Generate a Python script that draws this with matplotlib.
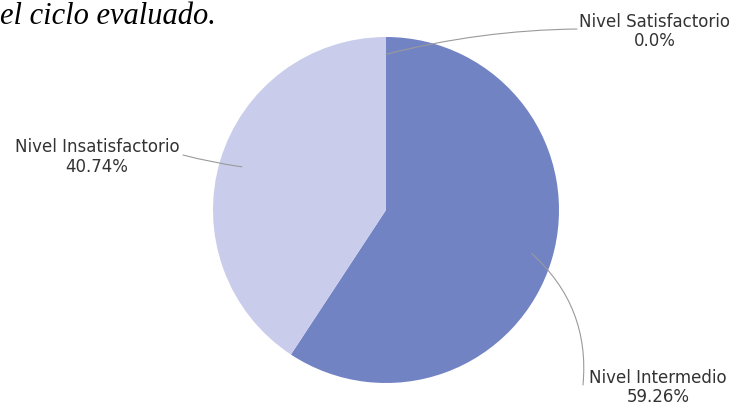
import numpy as np
import matplotlib
matplotlib.use('Agg')
from matplotlib import pyplot as plt

labels = ['Nivel Intermedio', 'Nivel Insatisfactorio', 'Nivel Satisfactorio']
values = [59.26, 40.74, 0.0]
pct_text = ['59.26%', '40.74%', '0.0%']
colors = ['#7283c4', '#c9cdeb', '#5a6bb5']

W, H = 735, 407
fig = plt.figure(figsize=(W / 100, H / 100), dpi=100)
ax = fig.add_axes([0, 0, 1, 1])

cx, cy, r = 386, H - 210, 173
wedges, _ = ax.pie(values, colors=colors, startangle=90, counterclock=False,
                   radius=r, center=(cx, cy), frame=True,
                   wedgeprops=dict(linewidth=0))
ax.set_xlim(0, W)
ax.set_ylim(0, H)
ax.set_aspect('auto')
ax.axis('off')

# label placement (pixels from top-left) and leader line settings
label_pos = [(658, 378), (97, 147), (655, 22)]
line_end = [(583, 385), (183, 155), (577, 29)]
anchor_r = [0.88, 0.87, 0.9]
rads = [-0.25, -0.03, -0.06]

for i, w in enumerate(wedges):
    mid = np.deg2rad((w.theta1 + w.theta2) / 2)
    ax_x = cx + anchor_r[i] * r * np.cos(mid)
    ax_y = cy + anchor_r[i] * r * np.sin(mid)
    ex, ey = line_end[i]
    ax.annotate('', xy=(ex, H - ey), xytext=(ax_x, ax_y),
                arrowprops=dict(arrowstyle='-', color='#9a9a9a', lw=0.8,
                                shrinkA=0, shrinkB=0,
                                connectionstyle='arc3,rad=%s' % rads[i]))
    lx, ly = label_pos[i]
    ax.text(lx, H - ly, labels[i], ha='center', va='center',
            fontsize=12, color='#333333', family='DejaVu Sans')
    ax.text(lx, H - ly - 19.5, pct_text[i], ha='center', va='center',
            fontsize=12, color='#333333', family='DejaVu Sans')

fig.text(0.0, 1 - 17 / H, 'el ciclo evaluado.', ha='left', va='center',
         fontsize=22, style='italic', family='Liberation Serif', color='black')

fig.savefig('out.png', dpi=100)
